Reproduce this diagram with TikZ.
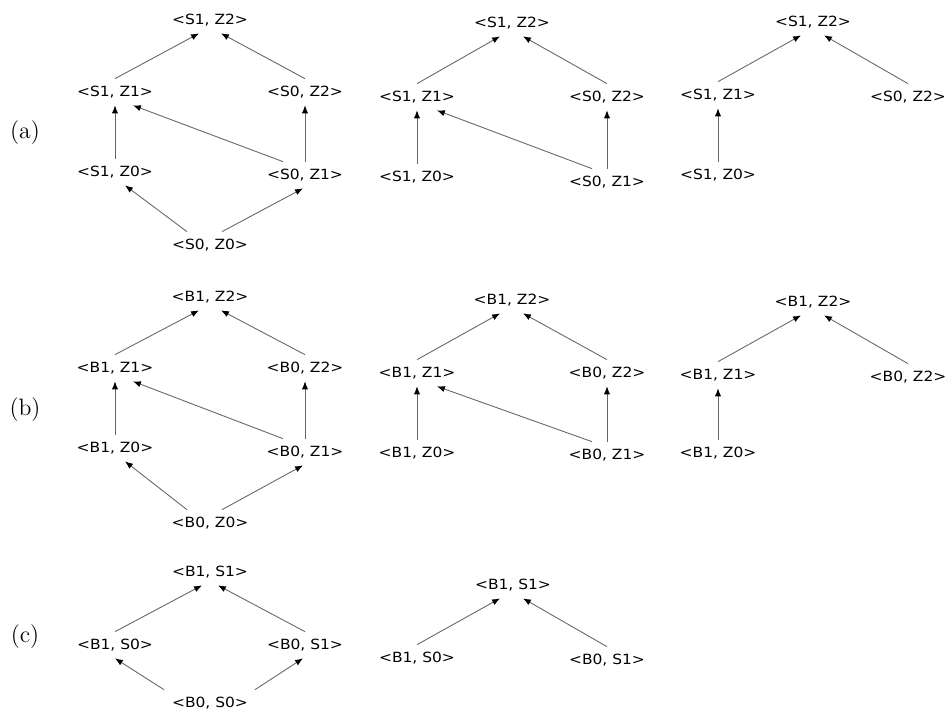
\documentclass[tikz,border=0pt]{standalone}
\usepackage{fontspec}
\newfontfamily\latfont[FakeStretch=1.1]{DejaVu Sans}
\usetikzlibrary{arrows.meta}

\begin{document}
\begin{tikzpicture}[
		x=0.02cm, y=-0.02cm,
		every node/.style={font=\latfont\fontsize{8}{9}\selectfont, inner sep=0pt, minimum height=0.52cm},
		caption/.style={font=\fontsize{13.5}{15}\selectfont},
		ord/.style={draw=black!60, line width=0.5pt, -{Latex[length=4.5pt,width=3.5pt,color=black]}}
		]
		\useasboundingbox (0,0) rectangle (951,711);
		
		% Row (a)
		\node[caption] (capa) at (25,133) {(a)};
		
		% (a) full lattice
		\node (a1s1z2) at (210,20)  {<S1, Z2>};
		\node (a1s1z1) at (115,92)  {<S1, Z1>};
		\node (a1s0z2) at (305,92)  {<S0, Z2>};
		\node (a1s1z0) at (115,172) {<S1, Z0>};
		\node (a1s0z1) at (305,175) {<S0, Z1>};
		\node (a1s0z0) at (210,245) {<S0, Z0>};
		
		\draw[ord] (a1s1z1.north) -- ([shift={(-11,0)}]a1s1z2.south);
		\draw[ord] (a1s0z2.north) -- ([shift={(11,0)}]a1s1z2.south);
		\draw[ord] (a1s1z0.north) -- (a1s1z1.south);
		\draw[ord] (a1s0z1.north) -- (a1s0z2.south);
		\draw[ord] ([shift={(-22,0)}]a1s0z1.north) -- ([shift={(18,0)}]a1s1z1.south);
		\draw[ord] ([shift={(-23,0)}]a1s0z0.north) -- ([shift={(10,0)}]a1s1z0.south);
		\draw[ord] ([shift={(12,0)}]a1s0z0.north) -- ([shift={(-2,0)}]a1s0z1.south);
		
		% (a) without bottom
		\node (a2s1z2) at (512,23)  {<S1, Z2>};
		\node (a2s1z1) at (417,97)  {<S1, Z1>};
		\node (a2s0z2) at (607,97)  {<S0, Z2>};
		\node (a2s1z0) at (417,177) {<S1, Z0>};
		\node (a2s0z1) at (607,182) {<S0, Z1>};
		
		\draw[ord] (a2s1z1.north) -- ([shift={(-12,0)}]a2s1z2.south);
		\draw[ord] (a2s0z2.north) -- ([shift={(11,0)}]a2s1z2.south);
		\draw[ord] (a2s1z0.north) -- (a2s1z1.south);
		\draw[ord] (a2s0z1.north) -- (a2s0z2.south);
		\draw[ord] ([shift={(-15,0)}]a2s0z1.north) -- ([shift={(20,0)}]a2s1z1.south);
		
		% (a) reduced
		\node (a3s1z2) at (813,22)  {<S1, Z2>};
		\node (a3s1z1) at (718,95)  {<S1, Z1>};
		\node (a3s0z2) at (908,97)  {<S0, Z2>};
		\node (a3s1z0) at (718,175) {<S1, Z0>};
		
		\draw[ord] (a3s1z1.north) -- ([shift={(-12,0)}]a3s1z2.south);
		\draw[ord] (a3s0z2.north) -- ([shift={(11,0)}]a3s1z2.south);
		\draw[ord] (a3s1z0.north) -- (a3s1z1.south);
		
		% Row (b)
		\node[caption] (capb) at (25,410) {(b)};
		
		% (b) full lattice
		\node (b1b1z2) at (210,297) {<B1, Z2>};
		\node (b1b1z1) at (115,368) {<B1, Z1>};
		\node (b1b0z2) at (305,368) {<B0, Z2>};
		\node (b1b1z0) at (115,448) {<B1, Z0>};
		\node (b1b0z1) at (305,452) {<B0, Z1>};
		\node (b1b0z0) at (210,523) {<B0, Z0>};
		
		\draw[ord] (b1b1z1.north) -- ([shift={(-11,0)}]b1b1z2.south);
		\draw[ord] (b1b0z2.north) -- ([shift={(11,0)}]b1b1z2.south);
		\draw[ord] (b1b1z0.north) -- (b1b1z1.south);
		\draw[ord] (b1b0z1.north) -- (b1b0z2.south);
		\draw[ord] ([shift={(-22,0)}]b1b0z1.north) -- ([shift={(18,0)}]b1b1z1.south);
		\draw[ord] ([shift={(-23,0)}]b1b0z0.north) -- ([shift={(10,0)}]b1b1z0.south);
		\draw[ord] ([shift={(12,0)}]b1b0z0.north) -- ([shift={(-2,0)}]b1b0z1.south);
		
		% (b) without bottom
		\node (b2b1z2) at (512,300) {<B1, Z2>};
		\node (b2b1z1) at (417,373) {<B1, Z1>};
		\node (b2b0z2) at (607,373) {<B0, Z2>};
		\node (b2b1z0) at (417,453) {<B1, Z0>};
		\node (b2b0z1) at (607,455) {<B0, Z1>};
		
		\draw[ord] (b2b1z1.north) -- ([shift={(-12,0)}]b2b1z2.south);
		\draw[ord] (b2b0z2.north) -- ([shift={(11,0)}]b2b1z2.south);
		\draw[ord] (b2b1z0.north) -- (b2b1z1.south);
		\draw[ord] (b2b0z1.north) -- (b2b0z2.south);
		\draw[ord] ([shift={(-15,0)}]b2b0z1.north) -- ([shift={(20,0)}]b2b1z1.south);
		
		% (b) reduced
		\node (b3b1z2) at (813,302) {<B1, Z2>};
		\node (b3b1z1) at (718,375) {<B1, Z1>};
		\node (b3b0z2) at (908,377) {<B0, Z2>};
		\node (b3b1z0) at (718,453) {<B1, Z0>};
		
		\draw[ord] (b3b1z1.north) -- ([shift={(-12,0)}]b3b1z2.south);
		\draw[ord] (b3b0z2.north) -- ([shift={(11,0)}]b3b1z2.south);
		\draw[ord] (b3b1z0.north) -- (b3b1z1.south);
		
		% Row (c)
		\node[caption] (capc) at (25,637) {(c)};
		
		% (c) full lattice
		\node (c1b1s1) at (210,572) {<B1, S1>};
		\node (c1b1s0) at (115,645) {<B1, S0>};
		\node (c1b0s1) at (305,645) {<B0, S1>};
		\node (c1b0s0) at (210,703) {<B0, S0>};
		
		\draw[ord] (c1b1s0.north) -- ([shift={(-8,0)}]c1b1s1.south);
		\draw[ord] (c1b0s1.north) -- ([shift={(8,0)}]c1b1s1.south);
		\draw[ord] ([shift={(-46,0)}]c1b0s0.north) -- (c1b1s0.south);
		\draw[ord] ([shift={(45,0)}]c1b0s0.north) -- ([shift={(-2,0)}]c1b0s1.south);
		
		% (c) reduced
		\node (c2b1s1) at (513,585) {<B1, S1>};
		\node (c2b1s0) at (417,658) {<B1, S0>};
		\node (c2b0s1) at (607,660) {<B0, S1>};
		
		\draw[ord] (c2b1s0.north) -- ([shift={(-13,0)}]c2b1s1.south);
		\draw[ord] (c2b0s1.north) -- ([shift={(10,0)}]c2b1s1.south);
		
	\end{tikzpicture}
\end{document}
